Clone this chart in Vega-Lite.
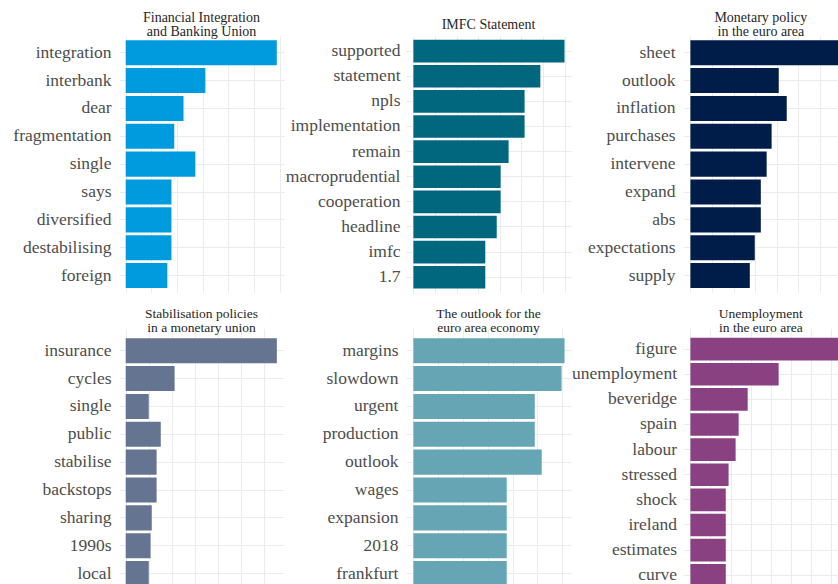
{
  "$schema": "https://vega.github.io/schema/vega-lite/v6.json",
  "padding": {"left": 0, "top": 11, "right": 0, "bottom": 0},
  "background": "white",
  "data": {"values": [
    {"panel": 1, "term": "integration", "value": 5.88},
    {"panel": 1, "term": "interbank", "value": 3.10},
    {"panel": 1, "term": "dear", "value": 2.25},
    {"panel": 1, "term": "fragmentation", "value": 1.89},
    {"panel": 1, "term": "single", "value": 2.71},
    {"panel": 1, "term": "says", "value": 1.78},
    {"panel": 1, "term": "diversified", "value": 1.78},
    {"panel": 1, "term": "destabilising", "value": 1.78},
    {"panel": 1, "term": "foreign", "value": 1.62},
    {"panel": 2, "term": "supported", "value": 7.0},
    {"panel": 2, "term": "statement", "value": 5.88},
    {"panel": 2, "term": "npls", "value": 5.15},
    {"panel": 2, "term": "implementation", "value": 5.15},
    {"panel": 2, "term": "remain", "value": 4.41},
    {"panel": 2, "term": "macroprudential", "value": 4.04},
    {"panel": 2, "term": "cooperation", "value": 4.04},
    {"panel": 2, "term": "headline", "value": 3.86},
    {"panel": 2, "term": "imfc", "value": 3.33},
    {"panel": 2, "term": "1.7", "value": 3.33},
    {"panel": 3, "term": "sheet", "value": 6.9},
    {"panel": 3, "term": "outlook", "value": 4.09},
    {"panel": 3, "term": "inflation", "value": 4.46},
    {"panel": 3, "term": "purchases", "value": 3.76},
    {"panel": 3, "term": "intervene", "value": 3.53},
    {"panel": 3, "term": "expand", "value": 3.26},
    {"panel": 3, "term": "abs", "value": 3.26},
    {"panel": 3, "term": "expectations", "value": 2.98},
    {"panel": 3, "term": "supply", "value": 2.75},
    {"panel": 4, "term": "insurance", "value": 6.55},
    {"panel": 4, "term": "cycles", "value": 2.12},
    {"panel": 4, "term": "single", "value": 1.0},
    {"panel": 4, "term": "public", "value": 1.52},
    {"panel": 4, "term": "stabilise", "value": 1.34},
    {"panel": 4, "term": "backstops", "value": 1.34},
    {"panel": 4, "term": "sharing", "value": 1.13},
    {"panel": 4, "term": "1990s", "value": 1.08},
    {"panel": 4, "term": "local", "value": 1.0},
    {"panel": 5, "term": "margins", "value": 6.09},
    {"panel": 5, "term": "slowdown", "value": 5.97},
    {"panel": 5, "term": "urgent", "value": 4.89},
    {"panel": 5, "term": "production", "value": 4.89},
    {"panel": 5, "term": "outlook", "value": 5.17},
    {"panel": 5, "term": "wages", "value": 3.76},
    {"panel": 5, "term": "expansion", "value": 3.76},
    {"panel": 5, "term": "2018", "value": 3.76},
    {"panel": 5, "term": "frankfurt", "value": 3.76},
    {"panel": 6, "term": "figure", "value": 7.4},
    {"panel": 6, "term": "unemployment", "value": 4.39},
    {"panel": 6, "term": "beveridge", "value": 2.85},
    {"panel": 6, "term": "spain", "value": 2.40},
    {"panel": 6, "term": "labour", "value": 2.25},
    {"panel": 6, "term": "stressed", "value": 1.90},
    {"panel": 6, "term": "shock", "value": 1.76},
    {"panel": 6, "term": "ireland", "value": 1.76},
    {"panel": 6, "term": "estimates", "value": 1.76},
    {"panel": 6, "term": "curve", "value": 1.76}
  ]},
  "config": {
    "view": {"stroke": null},
    "font": "Liberation Serif",
    "title": {"font": "Liberation Serif", "fontSize": 14, "fontWeight": "normal", "color": "#262626", "anchor": "middle", "lineHeight": 14},
    "axisY": {"domain": false, "ticks": false, "labelPadding": 8, "labelFontSize": 17.5, "labelColor": "#4D4D4D", "labelFont": "Liberation Serif", "grid": true, "gridColor": "#EBEBEB", "gridWidth": 1, "bandPosition": 0.5, "labelLimit": 300},
    "axisX": {"domain": false, "ticks": false, "labels": false, "grid": true, "gridColor": "#EBEBEB", "gridWidth": 1, "minExtent": 0, "maxExtent": 0}
  },
  "columns": 3,
  "spacing": {"row": 14, "column": 0},
  "resolve": {"scale": {"x": "independent", "y": "independent"}},
  "concat": [
    {
      "transform": [{"filter": "datum.panel == 1"}],
      "width": 165, "height": 256.3,
      "title": {"text": ["Financial Integration", "and Banking Union"], "offset": -3},
      "mark": {"type": "bar", "color": "#009BDE", "clip": true},
      "encoding": {
        "y": {"field": "term", "type": "nominal", "sort": null, "scale": {"paddingInner": 0.1, "paddingOuter": 0.15}, "axis": {"title": null, "minExtent": 118.3, "maxExtent": 118.3}},
        "x": {"field": "value", "type": "quantitative", "scale": {"domain": [-0.26, 6.16], "nice": false, "zero": false}, "axis": {"title": null, "values": [0, 1, 2, 3, 4, 5, 6]}},
        "x2": {"datum": 0}
      }
    },
    {
      "transform": [{"filter": "datum.panel == 2"}],
      "width": 165, "height": 256.3,
      "title": {"text": "IMFC Statement", "offset": 4},
      "mark": {"type": "bar", "color": "#00677F", "clip": true},
      "encoding": {
        "y": {"field": "term", "type": "nominal", "sort": null, "scale": {"paddingInner": 0.1, "paddingOuter": 0.15}, "axis": {"title": null, "minExtent": 122, "maxExtent": 122, "labelPadding": 6}},
        "x": {"field": "value", "type": "quantitative", "scale": {"domain": [-0.343, 7.3], "nice": false, "zero": false}, "axis": {"title": null, "values": [0, 1, 2, 3, 4, 5, 6, 7]}},
        "x2": {"datum": 0}
      }
    },
    {
      "transform": [{"filter": "datum.panel == 3"}],
      "width": 155.7, "height": 256.3,
      "title": {"text": ["Monetary policy", "in the euro area"], "offset": -3},
      "mark": {"type": "bar", "color": "#001C48", "clip": true},
      "encoding": {
        "y": {"field": "term", "type": "nominal", "sort": null, "scale": {"paddingInner": 0.1, "paddingOuter": 0.15}, "axis": {"title": null, "minExtent": 112, "maxExtent": 112}},
        "x": {"field": "value", "type": "quantitative", "scale": {"domain": [-0.343, 6.866], "nice": false, "zero": false}, "axis": {"title": null, "values": [0, 1, 2, 3, 4, 5, 6]}},
        "x2": {"datum": 0}
      }
    },
    {
      "transform": [{"filter": "datum.panel == 4"}],
      "width": 165, "height": 250.7,
      "title": {"text": ["Stabilisation policies", "in a monetary union"], "offset": 0, "lineHeight": 13.5, "fontSize": 13.5},
      "mark": {"type": "bar", "color": "#647491", "clip": true},
      "encoding": {
        "y": {"field": "term", "type": "nominal", "sort": null, "scale": {"paddingInner": 0.1, "paddingOuter": 0.15, "range": [0, 256.3]}, "axis": {"title": null, "minExtent": 118.3, "maxExtent": 118.3}},
        "x": {"field": "value", "type": "quantitative", "scale": {"domain": [-0.29, 6.86], "nice": false, "zero": false}, "axis": {"title": null, "values": [0, 1, 2, 3, 4, 5, 6]}},
        "x2": {"datum": 0}
      }
    },
    {
      "transform": [{"filter": "datum.panel == 5"}],
      "width": 165, "height": 250.7,
      "title": {"text": ["The outlook for the", "euro area economy"], "offset": 0, "lineHeight": 13.5, "fontSize": 13.5},
      "mark": {"type": "bar", "color": "#66A5B4", "clip": true},
      "encoding": {
        "y": {"field": "term", "type": "nominal", "sort": null, "scale": {"paddingInner": 0.1, "paddingOuter": 0.15, "range": [0, 256.3]}, "axis": {"title": null, "minExtent": 122, "maxExtent": 122}},
        "x": {"field": "value", "type": "quantitative", "scale": {"domain": [-0.298, 6.35], "nice": false, "zero": false}, "axis": {"title": null, "values": [0, 1, 2, 3, 4, 5, 6]}},
        "x2": {"datum": 0}
      }
    },
    {
      "transform": [{"filter": "datum.panel == 6"}],
      "width": 155.7, "height": 250.7,
      "title": {"text": ["Unemployment", "in the euro area"], "offset": 0, "lineHeight": 13.5, "fontSize": 13.5},
      "mark": {"type": "bar", "color": "#8A4182", "clip": true},
      "encoding": {
        "y": {"field": "term", "type": "nominal", "sort": null, "scale": {"paddingInner": 0.1, "paddingOuter": 0.15, "range": [0, 256.3]}, "axis": {"title": null, "minExtent": 112, "maxExtent": 112, "labelPadding": 6.5}},
        "x": {"field": "value", "type": "quantitative", "scale": {"domain": [-0.368, 7.378], "nice": false, "zero": false}, "axis": {"title": null, "values": [0, 1, 2, 3, 4, 5, 6, 7]}},
        "x2": {"datum": 0}
      }
    }
  ]
}
